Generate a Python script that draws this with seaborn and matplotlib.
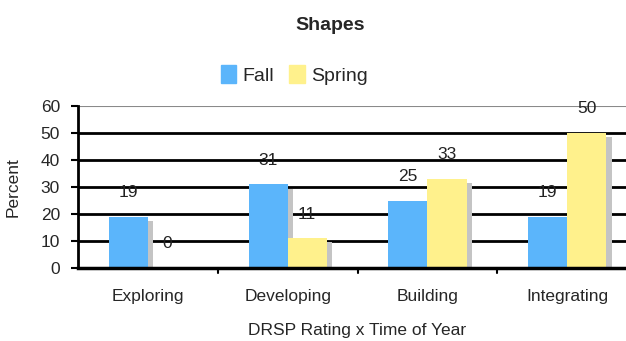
import matplotlib
matplotlib.use("Agg")
import matplotlib.pyplot as plt
import matplotlib.patheffects as pe
import seaborn as sns
import pandas as pd

categories = ["Exploring", "Developing", "Building", "Integrating"]
fall = [19, 31, 25, 19]
spring = [0, 11, 33, 50]
seasons = ["Fall", "Spring"]
colors = {"Fall": "#5BB5FB", "Spring": "#FFF18C"}

df = pd.DataFrame({
    "Rating": categories * 2,
    "Season": [seasons[0]] * len(categories) + [seasons[1]] * len(categories),
    "Percent": fall + spring,
})

sns.set_style("white")
plt.rcParams["font.family"] = ["Liberation Sans Narrow", "Liberation Sans", "DejaVu Sans"]

fig = plt.figure(figsize=(6.26, 3.41), dpi=100)
ax = fig.add_axes([0.1246, 0.214, 0.893, 0.475])

sns.barplot(data=df, x="Rating", y="Percent", hue="Season", order=categories,
            hue_order=seasons, palette=colors, width=0.56, gap=0,
            saturation=1, ax=ax, legend=False, zorder=3)

shadow = [pe.SimplePatchShadow(offset=(4, -3), shadow_rgbFace="#c4c4c4", alpha=1.0),
          pe.Normal()]
for bar in ax.patches:
    bar.set_linewidth(0)
    bar.set_path_effects(shadow)

# value labels floating above each bar
for container in ax.containers:
    for bar in container:
        h = bar.get_height()
        ax.text(bar.get_x() + bar.get_width() / 2, h + 9, f"{h:.0f}",
                ha="center", va="center", fontsize=12.5, color="#222222", zorder=5)

ax.set_ylim(0, 60)
ax.set_xlim(-0.5, 3.5)
ax.set_yticks(range(0, 61, 10))
ax.tick_params(axis="y", labelsize=12.5, length=5, width=1.5, color="black", pad=8, left=True)
ax.set_xticks(range(len(categories)))
ax.set_xticklabels(categories, fontsize=12.5)
ax.tick_params(axis="x", length=0, pad=15)

# category separators on the x axis
for b in [0.5, 1.5, 2.5]:
    ax.plot([b, b], [0, -1.8], color="black", lw=1.5, clip_on=False, zorder=4)

for v in range(10, 60, 10):
    ax.axhline(v, color="black", lw=2, zorder=1)
ax.axhline(60, color="#8a8a8a", lw=1.5, zorder=1)

for s in ["top", "right"]:
    ax.spines[s].set_visible(False)
ax.spines["left"].set_color("black")
ax.spines["left"].set_linewidth(2)
ax.spines["bottom"].set_color("black")
ax.spines["bottom"].set_linewidth(2.5)
ax.spines["left"].set_zorder(4)
ax.spines["bottom"].set_zorder(4)

ax.set_ylabel("Percent", fontsize=12.5, labelpad=14)
ax.set_xlabel("DRSP Rating x Time of Year", fontsize=12.5, labelpad=14)

fig.text(0.528, 0.925, "Shapes", ha="center", va="center", fontsize=14, fontweight="bold")

handles = [plt.Rectangle((0, 0), 1, 1, color=colors[s]) for s in seasons]
fig.legend(handles, seasons, loc="center", bbox_to_anchor=(0.47, 0.78), ncol=2,
           frameon=False, fontsize=14, handlelength=0.8, handleheight=1.0,
           handletextpad=0.3, columnspacing=0.8)

fig.savefig("out.png", dpi=100)
